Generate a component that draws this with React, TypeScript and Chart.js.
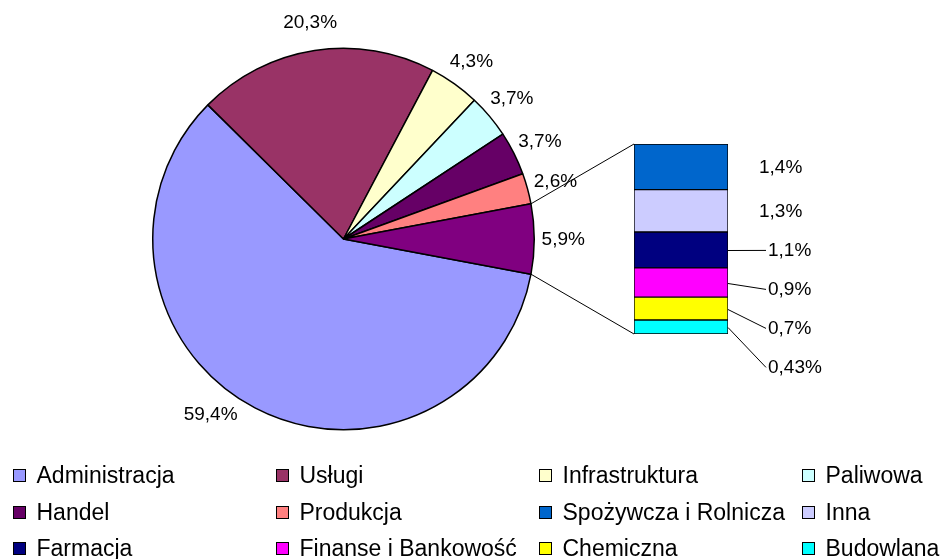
import React, { useEffect, useRef } from "react";
import { Chart, registerables } from "chart.js";

Chart.register(...registerables);

// ---- data ----
const pieLabels = ["Administracja", "Usługi", "Infrastruktura", "Paliwowa", "Handel", "Produkcja", "Inne"];
const pieValues = [59.4, 20.3, 4.3, 3.7, 3.7, 2.6, 5.9];
const pieColors = ["#9999FF", "#993366", "#FFFFCC", "#CCFFFF", "#660066", "#FF8080", "#800080"];

// bar of pie (top to bottom)
const barLabels = ["Spożywcza i Rolnicza", "Inna", "Farmacja", "Finanse i Bankowość", "Chemiczna", "Budowlana"];
const barValues = [1.4, 1.3, 1.1, 0.9, 0.7, 0.43];
const barColors = ["#0066CC", "#CCCCFF", "#000080", "#FF00FF", "#FFFF00", "#00FFFF"];

const fmt = (v: number) => String(v).replace(".", ",") + "%";
const FONT = '"Liberation Sans", Arial, sans-serif';

const legendItems = [
  ...pieLabels.slice(0, 6).map((l, i) => ({ label: l, color: pieColors[i] })),
  ...barLabels.map((l, i) => ({ label: l, color: barColors[i] })),
];

export default function App() {
  const pieRef = useRef<HTMLCanvasElement | null>(null);
  const barRef = useRef<HTMLCanvasElement | null>(null);

  useEffect(() => {
    const total = pieValues.reduce((a, b) => a + b, 0);
    const other = pieValues[pieValues.length - 1];
    const rotation = 90 + (other / total) * 180;

    const pieLabelPlugin = {
      id: "pieLabels",
      afterDatasetsDraw(chart: any) {
        const ctx = chart.ctx;
        const meta = chart.getDatasetMeta(0);
        ctx.save();
        ctx.font = "19px " + FONT;
        ctx.fillStyle = "#000";
        ctx.textAlign = "center";
        ctx.textBaseline = "middle";
        const limit = chart.chartArea.bottom - 10;
        meta.data.forEach((arc: any, i: number) => {
          const p = arc.getProps(["x", "y", "startAngle", "endAngle", "outerRadius"], true);
          let a = (p.startAngle + p.endAngle) / 2;
          const d = p.outerRadius + 29;
          const half = 7;
          let ly = p.y + d * Math.sin(a);
          if (ly + half > limit) {
            const s = (limit - half - p.y) / d;
            const base = Math.asin(Math.max(-1, Math.min(1, s)));
            a = Math.cos(a) < 0 ? Math.PI - base : base;
          }
          const lx = p.x + d * Math.cos(a);
          ly = p.y + d * Math.sin(a);
          ctx.fillText(fmt(pieValues[i]), lx, ly + 1);
        });
        ctx.restore();
      },
    };

    const pie = new Chart(pieRef.current as HTMLCanvasElement, {
      type: "pie",
      data: {
        labels: pieLabels,
        datasets: [
          {
            data: pieValues,
            backgroundColor: pieColors,
            borderColor: "#000",
            borderWidth: 1.5,
          },
        ],
      },
      options: {
        responsive: false,
        animation: false,
        events: [],
        rotation,
        layout: { padding: { left: 152, right: 409, top: 47, bottom: 128 } },
        plugins: { legend: { display: false }, tooltip: { enabled: false } },
      },
      plugins: [pieLabelPlugin],
    } as any);

    const barTotal = barValues.reduce((a, b) => a + b, 0);
    const stackOrder = barValues.map((_, i) => i).reverse(); // bottom first

    const barLabelPlugin = {
      id: "barLabels",
      afterDatasetsDraw(chart: any) {
        const ctx = chart.ctx;
        const segs = chart.data.datasets.map((_: any, di: number) => {
          const el = chart.getDatasetMeta(di).data[0];
          const p = el.getProps(["x", "y", "base", "width"], true);
          return { idx: stackOrder[di], top: Math.min(p.y, p.base), bottom: Math.max(p.y, p.base), left: p.x - p.width / 2, right: p.x + p.width / 2 };
        });
        segs.sort((a: any, b: any) => a.top - b.top);
        ctx.save();
        ctx.strokeStyle = "#000";
        ctx.lineWidth = 1;
        // connectors from the pie's "other" slice to the bar
        const pm = pie.getDatasetMeta(0);
        const arc: any = pm.data[pm.data.length - 1];
        const ap = arc.getProps(["x", "y", "startAngle", "endAngle", "outerRadius"], true);
        const barTop = segs[0].top;
        const barBottom = segs[segs.length - 1].bottom;
        const barLeft = segs[0].left;
        ctx.beginPath();
        ctx.moveTo(ap.x + ap.outerRadius * Math.cos(ap.startAngle), ap.y + ap.outerRadius * Math.sin(ap.startAngle));
        ctx.lineTo(barLeft, barTop);
        ctx.moveTo(ap.x + ap.outerRadius * Math.cos(ap.endAngle), ap.y + ap.outerRadius * Math.sin(ap.endAngle));
        ctx.lineTo(barLeft, barBottom);
        ctx.stroke();

        ctx.font = "19px " + FONT;
        ctx.fillStyle = "#000";
        ctx.textAlign = "left";
        ctx.textBaseline = "middle";
        let prev = -Infinity;
        segs.forEach((s: any) => {
          const mid = (s.top + s.bottom) / 2;
          const h = s.bottom - s.top;
          const ly = Math.max(mid, prev + 39);
          prev = ly;
          const leader = h < 40;
          if (leader) {
            ctx.beginPath();
            ctx.moveTo(s.right, Math.round(mid) + 0.5);
            ctx.lineTo(s.right + 38, ly + 0.5);
            ctx.stroke();
            ctx.fillText(fmt(barValues[s.idx]), s.right + 40, ly + 1);
          } else {
            ctx.fillText(fmt(barValues[s.idx]), s.right + 31, ly + 1);
          }
        });
        ctx.restore();
      },
    };

    const bar = new Chart(barRef.current as HTMLCanvasElement, {
      type: "bar",
      data: {
        labels: ["Inne"],
        datasets: stackOrder.map((i) => ({
          label: barLabels[i],
          data: [barValues[i]],
          backgroundColor: barColors[i],
          borderColor: "#000",
          borderWidth: 1,
          borderSkipped: false,
          categoryPercentage: 1,
          barPercentage: 1,
        })),
      },
      options: {
        responsive: false,
        animation: false,
        events: [],
        layout: { padding: { left: 634, right: 216, top: 144, bottom: 225 } },
        scales: {
          x: { stacked: true, display: false },
          y: { stacked: true, display: false, min: 0, max: barTotal },
        },
        plugins: { legend: { display: false }, tooltip: { enabled: false } },
      },
      plugins: [barLabelPlugin],
    } as any);

    return () => {
      bar.destroy();
      pie.destroy();
    };
  }, []);

  return (
    <div style={{ position: "fixed", left: 0, top: 0, width: 944, height: 559, background: "#fff", overflow: "hidden" }}>
      <canvas ref={pieRef} width={944} height={559} style={{ position: "absolute", left: 0, top: 0 }} />
      <canvas ref={barRef} width={944} height={559} style={{ position: "absolute", left: 0, top: 0 }} />
      {legendItems.map((it, i) => {
        const col = i % 4;
        const row = Math.floor(i / 4);
        return (
          <div
            key={it.label}
            style={{
              position: "absolute",
              left: 13 + col * 263,
              top: 469 + row * 36.5,
              height: 13,
              display: "flex",
              alignItems: "center",
              whiteSpace: "nowrap",
              fontFamily: FONT,
              fontSize: 23,
              lineHeight: 1,
              color: "#000",
            }}
          >
            <span style={{ display: "inline-block", width: 13, height: 13, boxSizing: "border-box", border: "1px solid #000", background: it.color, flex: "none" }} />
            <span style={{ marginLeft: 10.5 }}>{it.label}</span>
          </div>
        );
      })}
    </div>
  );
}
